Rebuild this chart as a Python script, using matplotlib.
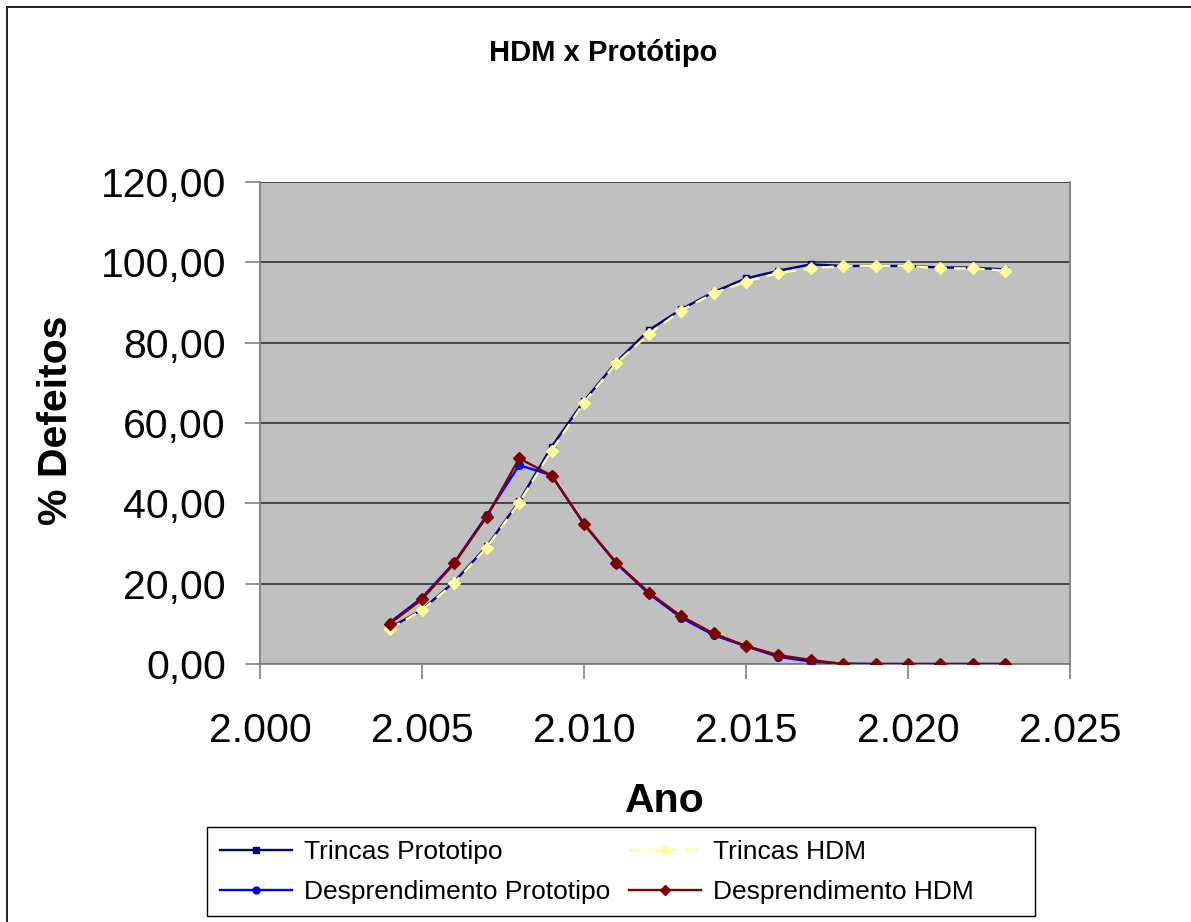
import matplotlib
matplotlib.use("Agg")
import matplotlib.pyplot as plt
from matplotlib.ticker import FuncFormatter, MultipleLocator
from matplotlib.patches import Rectangle

years = list(range(2004, 2024))
trincas_proto = [9.0, 13.5, 20.5, 29.3, 40.5, 54.1, 65.5, 75.2, 83.1, 88.3,
                 92.6, 96.0, 97.9, 99.5, 99.1, 99.1, 99.1, 98.7, 98.7, 98.2]
trincas_hdm = [8.7, 13.4, 20.2, 29.0, 40.2, 53.1, 65.1, 74.9, 82.1, 88.0,
               92.3, 95.2, 97.3, 98.5, 99.1, 99.1, 99.1, 98.5, 98.5, 97.9]
desp_proto = [10.3, 16.5, 25.3, 37.0, 49.5, 47.0, 34.8, 25.0, 17.5, 11.5,
              7.2, 4.4, 1.8, 0.6, 0.1, 0.0, 0.0, 0.0, 0.0, 0.0]
desp_hdm = [10.0, 16.1, 25.1, 36.7, 51.2, 46.9, 34.9, 25.2, 17.8, 11.9,
            7.6, 4.5, 2.2, 1.0, 0.0, 0.0, 0.0, 0.0, 0.0, 0.0]
labels = ["Trincas Prototipo", "Trincas HDM",
          "Desprendimento Prototipo", "Desprendimento HDM"]

plt.rcParams['font.family'] = ['Liberation Sans', 'DejaVu Sans']

W, H = 1191, 922
fig = plt.figure(figsize=(W / 100, H / 100), dpi=100)

# outer frame
fig.patches.append(Rectangle((7 / W, -0.1), 1.2, 1 - 7 / H + 0.1,
                             transform=fig.transFigure, fill=False,
                             edgecolor='#222222', linewidth=1.4, zorder=0))

ax = fig.add_axes([260 / W, 1 - 664 / H, 810 / W, 482 / H])
ax.set_facecolor('#C0C0C0')

l1, = ax.plot(years, trincas_proto, color='#000080', lw=1.7, marker='s',
              ms=5, mfc='#000080', mec='#000080', zorder=3)
l2, = ax.plot(years, trincas_hdm, color='#FFFF99', lw=1.7, ls=(0, (5, 3)),
              marker='D', ms=6.5, mfc='#FFFF99', mec='#FFFF99', zorder=4)
l3, = ax.plot(years, desp_proto, color='#0000FF', lw=1.7, marker='o',
              ms=5.5, mfc='#0000FF', mec='#0000FF', zorder=5)
l4, = ax.plot(years, desp_hdm, color='#800000', lw=1.7, marker='D',
              ms=6, mfc='#800000', mec='#800000', zorder=6)

ax.set_xlim(2000, 2025)
ax.set_ylim(0, 120)
ax.xaxis.set_major_locator(MultipleLocator(5))
ax.yaxis.set_major_locator(MultipleLocator(20))
ax.xaxis.set_major_formatter(FuncFormatter(lambda v, p: f"{int(round(v)):,}".replace(',', '.')))
ax.yaxis.set_major_formatter(FuncFormatter(lambda v, p: f"{v:.2f}".replace('.', ',')))

ax.grid(axis='y', color='#3a3a3a', lw=1.3, zorder=1)
ax.set_axisbelow(True)
ax.spines['top'].set_visible(False)
for s in ['left', 'bottom', 'right']:
    ax.spines[s].set_color('#808080')
    ax.spines[s].set_linewidth(1.3)

ax.tick_params(axis='both', direction='out', length=10.5, width=1.2,
               color='#808080', labelsize=29.5, labelcolor='black')
ax.tick_params(axis='x', pad=24)
ax.tick_params(axis='y', pad=14)

fig.text(603 / W, 1 - 53 / H, "HDM x Protótipo", ha='center', va='center',
         fontsize=21, fontweight='bold')
fig.text(56 / W, 1 - 420 / H, "% Defeitos", ha='center', va='center',
         rotation=90, fontsize=29.5, fontweight='bold')
fig.text(665 / W, 1 - 801 / H, "Ano", ha='center', va='center',
         fontsize=29.5, fontweight='bold')

# legend box
fig.patches.append(Rectangle((207 / W, 1 - 916 / H), 828 / W, 89 / H,
                             transform=fig.transFigure, fill=False,
                             edgecolor='black', linewidth=1.0, zorder=5))

leg = fig.legend([l1, l3, l2, l4],
                 [labels[0], labels[2], labels[1], labels[3]],
                 ncol=2, loc='center left',
                 bbox_to_anchor=(220 / W, 1 - 872 / H),
                 fontsize=19, frameon=False,
                 handlelength=2.73, handletextpad=0.45, columnspacing=0.7,
                 labelspacing=0.6, borderpad=0, borderaxespad=0)
for h in leg.legend_handles:
    h.set_markersize(5)

fig.savefig("out.png", dpi=100)
